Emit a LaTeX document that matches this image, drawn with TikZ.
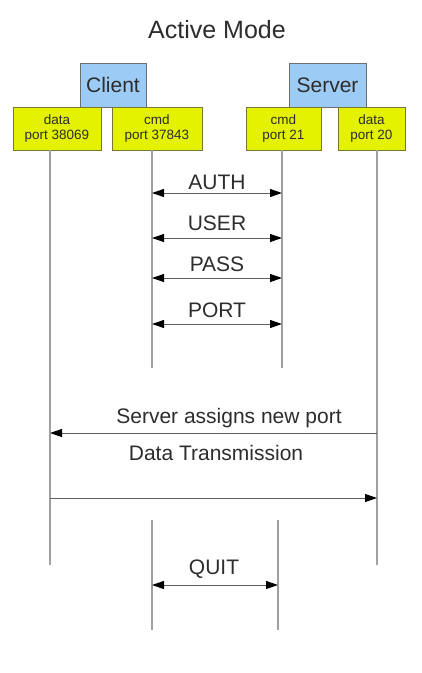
\documentclass[tikz,border=0pt]{standalone}
\usepackage{fontspec}
\setmainfont{Liberation Sans}
\usetikzlibrary{arrows.meta}

\definecolor{hostfill}{RGB}{156,204,245}
\definecolor{hostdraw}{RGB}{110,110,110}
\definecolor{portfill}{RGB}{228,242,0}
\definecolor{portdraw}{RGB}{120,120,50}
\definecolor{lifegray}{RGB}{160,160,160}
\definecolor{msggray}{RGB}{95,95,95}
\definecolor{inkgray}{RGB}{45,45,45}

\tikzset{
  host/.style={draw=hostdraw, fill=hostfill, line width=1pt, inner sep=0pt,
    text=inkgray, font=\fontsize{21}{24}\selectfont},
  portbox/.style={draw=portdraw, fill=portfill, line width=1pt, inner sep=0pt,
    text=inkgray, align=center, font=\fontsize{13.5}{15.5}\selectfont},
  lifeline/.style={draw=lifegray, line width=1.5pt},
  msg/.style={draw=msggray, line width=1pt,
    arrows={-Triangle[length=12pt,width=8pt,fill=black,color=black]}},
  twoway/.style={draw=msggray, line width=1pt,
    arrows={Triangle[length=12pt,width=8pt,fill=black,color=black]-Triangle[length=12pt,width=8pt,fill=black,color=black]}},
  label/.style={text=inkgray, font=\fontsize{21}{24}\selectfont, inner sep=0pt},
}

\begin{document}
\begin{tikzpicture}[x=1pt, y=-1pt]
  \useasboundingbox[fill=white] (0,0) rectangle (422,673);

  % title
  \node[label, font=\fontsize{25}{28}\selectfont] (title) at (217,30) {Active Mode};

  % hosts
  \node[host, minimum width=66pt, minimum height=44pt] (client) at (113,85) {Client};
  \node[host, minimum width=77pt, minimum height=44pt] (server) at (327.5,85) {Server};

  % ports
  \node[portbox, minimum width=88pt, minimum height=43pt] (cdata) at (57,128.5) {data\\port 38069};
  \node[portbox, minimum width=90pt, minimum height=43pt] (ccmd) at (157,128.5) {cmd\\port 37843};
  \node[portbox, minimum width=75pt, minimum height=43pt] (scmd) at (283.5,128.5) {cmd\\port 21};
  \node[portbox, minimum width=67pt, minimum height=43pt] (sdata) at (371.5,128.5) {data\\port 20};

  % lifeline end points
  \coordinate (cdTop) at (50,150);   \coordinate (cdBot) at (50,565);
  \coordinate (ccTop) at (152,150);  \coordinate (ccBot) at (152,368);
  \coordinate (scTop) at (282,150);  \coordinate (scBot) at (282,368);
  \coordinate (sdTop) at (377,150);  \coordinate (sdBot) at (377,565);
  \coordinate (ccTop2) at (152,520); \coordinate (ccBot2) at (152,630);
  \coordinate (scTop2) at (278,520); \coordinate (scBot2) at (278,630);

  \draw[lifeline] (cdTop) -- (cdBot);
  \draw[lifeline] (ccTop) -- (ccBot);
  \draw[lifeline] (scTop) -- (scBot);
  \draw[lifeline] (sdTop) -- (sdBot);
  \draw[lifeline] (ccTop2) -- (ccBot2);
  \draw[lifeline] (scTop2) -- (scBot2);

  % command channel exchanges
  \coordinate (authC) at (152,193); \coordinate (authS) at (282,193);
  \coordinate (userC) at (152,238); \coordinate (userS) at (282,238);
  \coordinate (passC) at (152,278); \coordinate (passS) at (282,278);
  \coordinate (portC) at (152,324); \coordinate (portS) at (282,324);
  \coordinate (quitC) at (152,585); \coordinate (quitS) at (278,585);

  \draw[twoway] (authC) -- (authS);
  \draw[twoway] (userC) -- (userS);
  \draw[twoway] (passC) -- (passS);
  \draw[twoway] (portC) -- (portS);
  \draw[twoway] (quitC) -- (quitS);

  \node[label] (authL) at (217,182) {AUTH};
  \node[label] (userL) at (217,223) {USER};
  \node[label] (passL) at (217,264) {PASS};
  \node[label] (portL) at (217,310) {PORT};
  \node[label] (quitL) at (214,569) {QUIT};

  % data channel
  \coordinate (newS) at (377,433); \coordinate (newC) at (50,433);
  \coordinate (dataC) at (50,498); \coordinate (dataS) at (377,498);
  \draw[msg] (newS) -- (newC);
  \draw[msg] (dataC) -- (dataS);

  \node[label] (newL) at (229,418) {Server assigns new port};
  \node[label] (dataL) at (216,453) {Data Transmission};
\end{tikzpicture}
\end{document}
